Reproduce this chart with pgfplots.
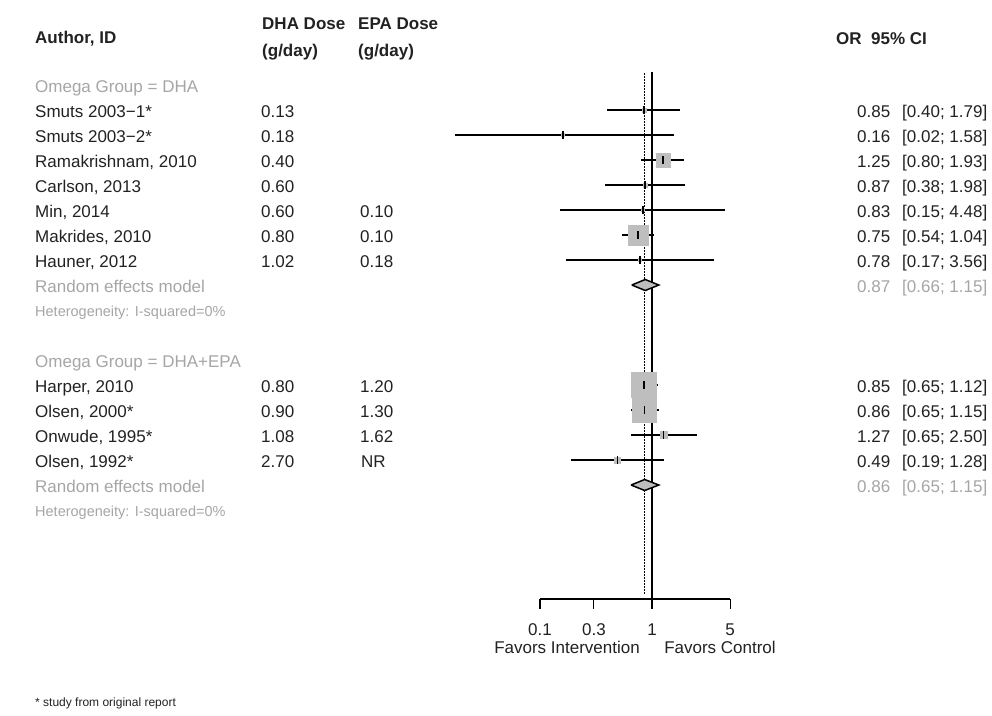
\documentclass[border=0pt]{standalone}
\usepackage{pgfplots}
\usepackage{pgfplotstable}
\pgfplotsset{compat=1.18}
\usepackage{fontspec}
\setmainfont{Liberation Sans}
\definecolor{txt}{HTML}{222222}
\definecolor{gtxt}{HTML}{A6A6A6}
\definecolor{boxg}{HTML}{BEBEBE}
\newcommand\fs{\fontsize{17}{20}\selectfont}
\newcommand\fss{\fontsize{14.5}{17}\selectfont}
% row  or  lo  hi  boxhalfsize(pt)
\pgfplotstableread{
row or   lo     hi   w
1  0.85 0.40   1.79 2.0
2  0.16 0.0175 1.58 1.5
3  1.25 0.80   1.93 7.0
4  0.87 0.38   1.98 2.0
5  0.83 0.15   4.48 1.5
6  0.75 0.54   1.04 10.0
7  0.78 0.17   3.56 1.5
12 0.85 0.65   1.12 12.5
13 0.86 0.65   1.15 12.0
14 1.27 0.65   2.50 3.5
15 0.49 0.19   1.28 3.0
}\studies
\begin{document}
\begin{tikzpicture}[x=1pt,y=1pt]
\useasboundingbox (0,0) rectangle (992,-715);
\fill[white] (0,0) rectangle (992,-715);
\begin{axis}[at={(428pt,-660pt)}, anchor=south west, scale only axis,
  width=336pt, height=625pt, xmode=log, xmin=0.01, xmax=10,
  ymin=-2, ymax=23, y dir=reverse, axis lines=none, clip=false,
  enlargelimits=false]
% grey boxes
\addplot[scatter, only marks, mark=square*,
  scatter/use mapped color={draw=boxg, fill=boxg},
  visualization depends on={\thisrow{w} \as \wsize},
  scatter/@pre marker code/.append style={/tikz/mark size=\wsize}]
  table[x=or, y=row, meta=w] {\studies};
% confidence intervals
\addplot[black, line width=1.5pt] coordinates {(0.40,1) (1.79,1)};
\addplot[black, line width=1.5pt] coordinates {(0.0175,2) (1.58,2)};
\addplot[black, line width=1.5pt] coordinates {(0.80,3) (1.93,3)};
\addplot[black, line width=1.5pt] coordinates {(0.38,4) (1.98,4)};
\addplot[black, line width=1.5pt] coordinates {(0.15,5) (4.48,5)};
\addplot[black, line width=1.5pt] coordinates {(0.54,6) (1.04,6)};
\addplot[black, line width=1.5pt] coordinates {(0.17,7) (3.56,7)};
\addplot[black, line width=1.5pt] coordinates {(0.65,12) (1.12,12)};
\addplot[black, line width=1.5pt] coordinates {(0.65,13) (1.15,13)};
\addplot[black, line width=1.5pt] coordinates {(0.65,14) (2.50,14)};
\addplot[black, line width=1.5pt] coordinates {(0.19,15) (1.28,15)};
% point estimates
\addplot[only marks, mark=|, mark size=4pt, mark options={line width=1.5pt, black}]
  table[x=or, y=row] {\studies};
% reference lines
\addplot[black, line width=1.5pt] coordinates {(1,-0.52) (1,20.56)};
\addplot[black, line width=1pt, dash pattern=on 1.5pt off 1.5pt] coordinates {(0.865,-0.48) (0.865,20.36)};
% pooled diamonds
\addplot[fill=boxg, draw=black, line width=1.5pt] coordinates {(0.66,8) (0.87,7.78) (1.15,8) (0.87,8.22) (0.66,8)};
\addplot[fill=boxg, draw=black, line width=1.5pt] coordinates {(0.65,16) (0.86,15.78) (1.15,16) (0.86,16.22) (0.65,16)};
% x axis
\addplot[black, line width=1.5pt] coordinates {(0.1,20.56) (5,20.56)};
\addplot[black, line width=1.5pt] coordinates {(0.1,20.56) (0.1,20.96)};
\addplot[black, line width=1.5pt] coordinates {(0.3,20.56) (0.3,20.96)};
\addplot[black, line width=1.5pt] coordinates {(1,20.56) (1,20.96)};
\addplot[black, line width=1.5pt] coordinates {(5,20.56) (5,20.96)};
\end{axis}
% headers
\begin{scope}[every node/.style={inner sep=0pt, text=txt, font=\fs\bfseries}]
\node[anchor=base west] at (35,-43) {Author, ID};
\node[anchor=base west] at (262,-29) {DHA Dose};
\node[anchor=base west] at (262,-56) {(g/day)};
\node[anchor=base west] at (358,-29) {EPA Dose};
\node[anchor=base west] at (358,-56) {(g/day)};
\node[anchor=base west] at (836,-44) {OR};
\node[anchor=base west] at (871,-44) {95\% CI};
\end{scope}
\begin{scope}[every node/.style={inner sep=0pt, text=txt, font=\fs, anchor=base west}]
\node[text=gtxt] at (35,{-(92.6+25*0)}) {Omega Group = DHA};
\node at (35,{-(92.6+25*1)}) {Smuts 2003−1*};
\node at (35,{-(92.6+25*2)}) {Smuts 2003−2*};
\node at (35,{-(92.6+25*3)}) {Ramakrishnam, 2010};
\node at (35,{-(92.6+25*4)}) {Carlson, 2013};
\node at (35,{-(92.6+25*5)}) {Min, 2014};
\node at (35,{-(92.6+25*6)}) {Makrides, 2010};
\node at (35,{-(92.6+25*7)}) {Hauner, 2012};
\node[text=gtxt] at (35,{-(92.6+25*8)}) {Random effects model};
\node[text=gtxt, font=\fss] at (35,{-(91.8+25*9)}) {Heterogeneity: I-squared=0\%};
\node[text=gtxt] at (35,{-(92.6+25*11)}) {Omega Group = DHA+EPA};
\node at (35,{-(92.6+25*12)}) {Harper, 2010};
\node at (35,{-(92.6+25*13)}) {Olsen, 2000*};
\node at (35,{-(92.6+25*14)}) {Onwude, 1995*};
\node at (35,{-(92.6+25*15)}) {Olsen, 1992*};
\node[text=gtxt] at (35,{-(92.6+25*16)}) {Random effects model};
\node[text=gtxt, font=\fss] at (35,{-(91.8+25*17)}) {Heterogeneity: I-squared=0\%};
% DHA dose
\node at (261,{-(92.6+25*1)}) {0.13};
\node at (261,{-(92.6+25*2)}) {0.18};
\node at (261,{-(92.6+25*3)}) {0.40};
\node at (261,{-(92.6+25*4)}) {0.60};
\node at (261,{-(92.6+25*5)}) {0.60};
\node at (261,{-(92.6+25*6)}) {0.80};
\node at (261,{-(92.6+25*7)}) {1.02};
\node at (261,{-(92.6+25*12)}) {0.80};
\node at (261,{-(92.6+25*13)}) {0.90};
\node at (261,{-(92.6+25*14)}) {1.08};
\node at (261,{-(92.6+25*15)}) {2.70};
% EPA dose
\node at (360,{-(92.6+25*5)}) {0.10};
\node at (360,{-(92.6+25*6)}) {0.10};
\node at (360,{-(92.6+25*7)}) {0.18};
\node at (360,{-(92.6+25*12)}) {1.20};
\node at (360,{-(92.6+25*13)}) {1.30};
\node at (360,{-(92.6+25*14)}) {1.62};
\node at (361,{-(92.6+25*15)}) {NR};
% OR and CI
\node at (857,{-(92.6+25*1)}) {0.85}; \node at (902,{-(92.6+25*1)}) {[0.40; 1.79]};
\node at (857,{-(92.6+25*2)}) {0.16}; \node at (902,{-(92.6+25*2)}) {[0.02; 1.58]};
\node at (857,{-(92.6+25*3)}) {1.25}; \node at (902,{-(92.6+25*3)}) {[0.80; 1.93]};
\node at (857,{-(92.6+25*4)}) {0.87}; \node at (902,{-(92.6+25*4)}) {[0.38; 1.98]};
\node at (857,{-(92.6+25*5)}) {0.83}; \node at (902,{-(92.6+25*5)}) {[0.15; 4.48]};
\node at (857,{-(92.6+25*6)}) {0.75}; \node at (902,{-(92.6+25*6)}) {[0.54; 1.04]};
\node at (857,{-(92.6+25*7)}) {0.78}; \node at (902,{-(92.6+25*7)}) {[0.17; 3.56]};
\node[text=gtxt] at (857,{-(92.6+25*8)}) {0.87}; \node[text=gtxt] at (902,{-(92.6+25*8)}) {[0.66; 1.15]};
\node at (857,{-(92.6+25*12)}) {0.85}; \node at (902,{-(92.6+25*12)}) {[0.65; 1.12]};
\node at (857,{-(92.6+25*13)}) {0.86}; \node at (902,{-(92.6+25*13)}) {[0.65; 1.15]};
\node at (857,{-(92.6+25*14)}) {1.27}; \node at (902,{-(92.6+25*14)}) {[0.65; 2.50]};
\node at (857,{-(92.6+25*15)}) {0.49}; \node at (902,{-(92.6+25*15)}) {[0.19; 1.28]};
\node[text=gtxt] at (857,{-(92.6+25*16)}) {0.86}; \node[text=gtxt] at (902,{-(92.6+25*16)}) {[0.65; 1.15]};
\end{scope}
% axis tick labels and direction labels
\begin{scope}[every node/.style={inner sep=0pt, text=txt, font=\fs, anchor=base}]
\node at (540,-635) {0.1};
\node at (594,-635) {0.3};
\node at (652,-635) {1};
\node at (730,-635) {5};
\node at (567,-653) {Favors Intervention};
\node at (720,-653) {Favors Control};
\end{scope}
\node[inner sep=0pt, text=txt, font=\fontsize{12}{14}\selectfont, anchor=base west] at (35,-706) {* study from original report};
\end{tikzpicture}
\end{document}
